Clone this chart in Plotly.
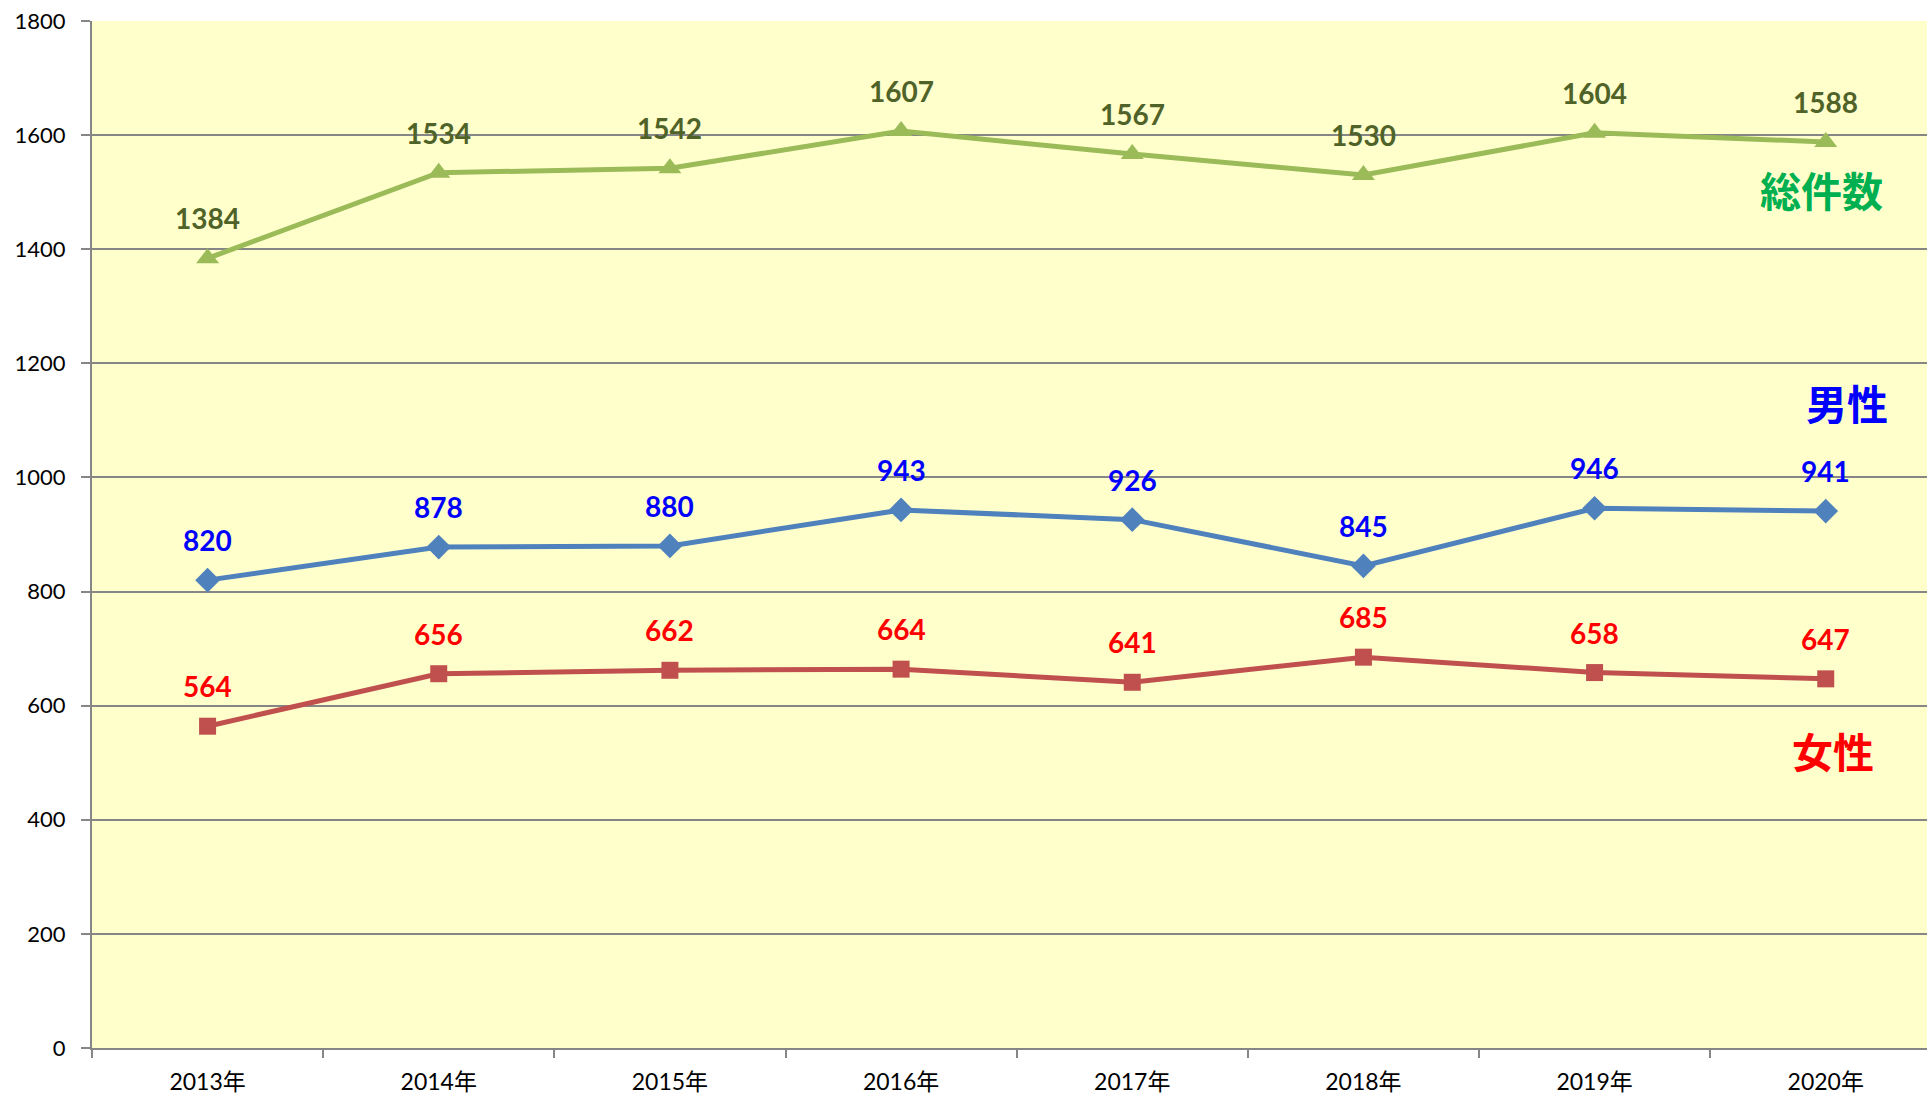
import plotly.graph_objects as go

years = ["2013年", "2014年", "2015年", "2016年", "2017年", "2018年", "2019年", "2020年"]
total = [1384, 1534, 1542, 1607, 1567, 1530, 1604, 1588]
male = [820, 878, 880, 943, 926, 845, 946, 941]
female = [564, 656, 662, 664, 641, 685, 658, 647]

FONT = "Lato, 'Noto Sans CJK JP', sans-serif"
LABEL_FONT = "Lato, 'Noto Sans CJK JP', sans-serif"
CJK = "'Noto Sans CJK JP', sans-serif"

series = [
    ("総件数", total, "#9BBB59", "triangle-up", 20, "#4F6228"),
    ("男性", male, "#4F81BD", "diamond", 19, "#0000FF"),
    ("女性", female, "#C0504D", "square", 17, "#FF0000"),
]

fig = go.Figure()
annotations = []
for name, vals, lc, sym, ms, tc in series:
    fig.add_trace(go.Scatter(
        x=years, y=vals, mode="lines+markers", name=name,
        line=dict(color=lc, width=5),
        marker=dict(symbol=sym, size=ms, color=lc),
        showlegend=False, cliponaxis=False,
    ))
    for xv, yv in zip(years, vals):
        annotations.append(dict(
            x=xv, y=yv, xref="x", yref="y", text=f"<b>{yv}</b>",
            showarrow=False, yshift=40,
            font=dict(family=LABEL_FONT, size=28, color=tc),
        ))

# series name labels
annotations += [
    dict(x=6.98, y=1506, xref="x", yref="y", text="<b>総件数</b>", showarrow=False,
         font=dict(family=CJK, size=41, color="#00B050")),
    dict(x=7.09, y=1133, xref="x", yref="y", text="<b>男性</b>", showarrow=False,
         font=dict(family=CJK, size=41, color="#0000FF")),
    dict(x=7.03, y=523, xref="x", yref="y", text="<b>女性</b>", showarrow=False,
         font=dict(family=CJK, size=41, color="#FF0000")),
]

fig.update_layout(
    width=1927, height=1098,
    margin=dict(l=92, r=0, t=21, b=50),
    paper_bgcolor="white",
    plot_bgcolor="#FFFFCC",
    annotations=annotations,
    font=dict(family=FONT, size=22, color="black"),
)
fig.update_xaxes(
    type="category", range=[-0.5, 7.438],
    showline=True, linecolor="#868686", linewidth=2,
    ticks="outside", tickson="boundaries", ticklen=8, tickcolor="#868686", tickwidth=2,
    showgrid=False, tickfont=dict(size=23, family=FONT),
    ticklabelstandoff=12,
)
fig.update_yaxes(
    range=[0, 1800], dtick=200,
    showline=True, linecolor="#868686", linewidth=2,
    ticks="outside", ticklen=9, tickcolor="#868686", tickwidth=2,
    showgrid=True, gridcolor="#868686", gridwidth=1.5,
    zeroline=False, tickfont=dict(size=22, family=FONT),
    ticklabelstandoff=11,
)

fig.write_html(
    "out.html",
    config={"displayModeBar": False},
    post_script="document.body.style.margin='0';document.body.style.overflow='hidden';",
)
